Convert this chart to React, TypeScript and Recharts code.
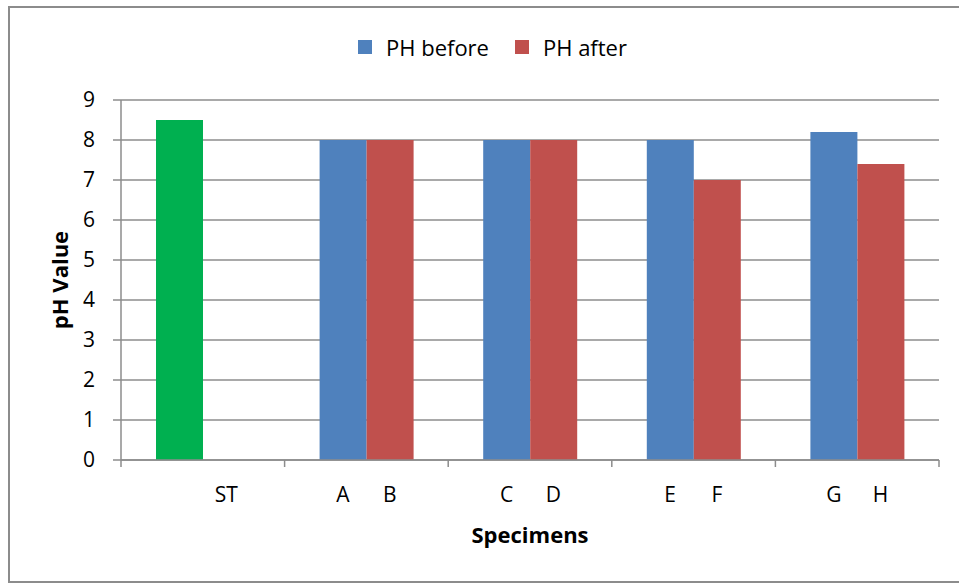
import { BarChart, Bar, Cell, XAxis, YAxis, CartesianGrid, Legend, Label } from "recharts"

// categories on the x axis, one per bar group
const categories = ["ST", "AB", "CD", "EF", "GH"]
// labels printed under the left (before) and right (after) bar of each group
const leftLabels = ["", "A", "C", "E", "G"]
const rightLabels = ["ST", "B", "D", "F", "H"]
// pH readings
const phBefore = [8.5, 8, 8, 8, 8.2]
const phAfter = [null, 8, 8, 7, 7.4]
const yTicks = [0, 1, 2, 3, 4, 5, 6, 7, 8, 9]
const seriesNames = ["PH before", "PH after"]

const BLUE = "#4F81BD"
const RED = "#C0504D"
const GREEN = "#00B050"
const GRID = "#8C8C8C"
const FONT = "'Open Sans', sans-serif"

const W = 959
const H = 583
const MARGIN = { top: 100, right: 20, bottom: 83, left: 61 }
const Y_AXIS_W = 60
const CAT_GAP = 35
const BAND = (W - MARGIN.left - Y_AXIS_W - MARGIN.right) / categories.length
const BAR_W = (BAND - 2 * CAT_GAP) / 2

const data = categories.map((c, i) => ({
  name: c,
  before: phBefore[i],
  after: phAfter[i],
}))

function XTick(props: any) {
  const { x, y, index } = props
  const axisY = y - 7
  const left = x - BAND / 2
  const right = x + BAND / 2
  return (
    <g>
      {/* tick marks between groups */}
      <line x1={left} x2={left} y1={axisY} y2={axisY + 7} stroke={GRID} strokeWidth={1.5} />
      {index === categories.length - 1 && (
        <line x1={right} x2={right} y1={axisY} y2={axisY + 7} stroke={GRID} strokeWidth={1.5} />
      )}
      <text x={x - BAR_W / 2} y={axisY + 42} textAnchor="middle" fontFamily={FONT} fontSize={21} fill="#000">
        {leftLabels[index]}
      </text>
      <text x={x + BAR_W / 2} y={axisY + 42} textAnchor="middle" fontFamily={FONT} fontSize={21} fill="#000">
        {rightLabels[index]}
      </text>
    </g>
  )
}

function LegendContent(props: any) {
  const items = [...(props.payload || [])].sort(
    (a: any, b: any) => seriesNames.indexOf(a.value) - seriesNames.indexOf(b.value)
  )
  return (
    <div style={{ display: "flex", alignItems: "center", fontFamily: FONT, fontSize: 22, lineHeight: "28px" }}>
      {items.map((p: any) => (
        <div key={p.value} style={{ display: "flex", alignItems: "center", marginRight: 26 }}>
          <span style={{ width: 14, height: 14, background: p.color, marginRight: 14, display: "inline-block" }} />
          <span style={{ color: "#000" }}>{p.value}</span>
        </div>
      ))}
    </div>
  )
}

export default function App() {
  return (
    <div style={{ position: "absolute", left: 0, top: 0, width: W, height: H, overflow: "hidden", background: "#fff" }}>
      {/* chart frame */}
      <div
        style={{
          position: "absolute",
          left: 8,
          top: 6,
          width: 960,
          height: 577,
          border: "2px solid #8C8C8C",
          boxSizing: "border-box",
        }}
      />
      <div style={{ position: "absolute", left: 0, top: 0 }}>
        <BarChart width={W} height={H} data={data} margin={MARGIN} barGap={0} barCategoryGap={CAT_GAP}>
          <CartesianGrid vertical={false} stroke={GRID} strokeWidth={1.5} />
          <XAxis
            dataKey="name"
            height={40}
            axisLine={{ stroke: GRID, strokeWidth: 1.5 }}
            tickLine={false}
            tickSize={7}
            tickMargin={0}
            interval={0}
            tick={<XTick />}
          >
            <Label
              content={(p: any) => {
                const vb = p.viewBox
                return (
                  <text x={vb.x + vb.width / 2} y={vb.y + 83} textAnchor="middle" fontFamily={FONT} fontSize={22} fontWeight="bold" fill="#000">
                    Specimens
                  </text>
                )
              }}
            />
          </XAxis>
          <YAxis
            width={Y_AXIS_W}
            domain={[0, 9]}
            ticks={yTicks}
            interval={0}
            axisLine={{ stroke: GRID, strokeWidth: 1.5 }}
            tickLine={{ stroke: GRID, strokeWidth: 1.5 }}
            tickSize={8}
            tickMargin={18}
            tick={{ fontFamily: FONT, fontSize: 21, fill: "#000" }}
          >
            <Label
              content={(p: any) => {
                const vb = p.viewBox
                const cx = vb.x - 2
                const cy = vb.y + vb.height / 2
                return (
                  <text
                    x={cx}
                    y={cy}
                    transform={`rotate(-90 ${cx} ${cy})`}
                    textAnchor="middle"
                    dominantBaseline="central"
                    fontFamily={FONT}
                    fontSize={22}
                    fontWeight="bold"
                    fill="#000"
                  >
                    pH Value
                  </text>
                )
              }}
            />
          </YAxis>
          <Legend
            verticalAlign="middle"
            layout="horizontal"
            content={<LegendContent />}
            wrapperStyle={{ top: 33, left: 358, width: "auto" }}
          />
          <Bar dataKey="before" name="PH before" fill={BLUE} isAnimationActive={false}>
            {data.map((d) => (
              <Cell key={d.name} fill={d.name === "ST" ? GREEN : BLUE} />
            ))}
          </Bar>
          <Bar dataKey="after" name="PH after" fill={RED} isAnimationActive={false} />
        </BarChart>
      </div>
    </div>
  )
}
